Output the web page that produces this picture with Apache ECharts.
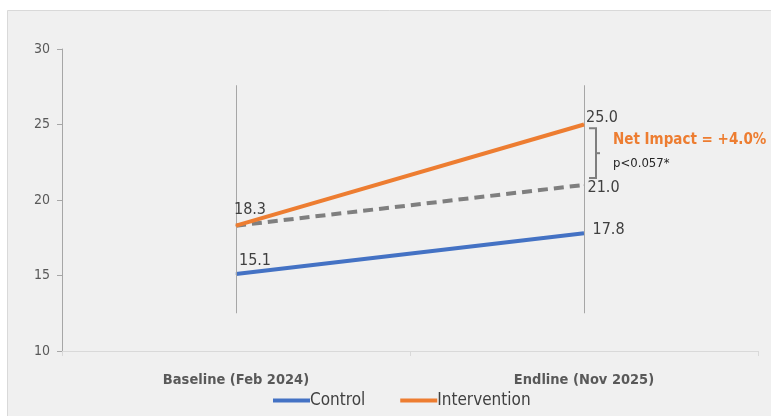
<!DOCTYPE html>
<html>
<head>
<meta charset="utf-8">
<script src="https://cdn.jsdelivr.net/npm/echarts@6/dist/echarts.min.js"></script>
<style>
  html, body { margin: 0; padding: 0; background: #ffffff; }
  #chart { width: 771px; height: 416px; }
</style>
</head>
<body>
<div id="chart"></div>
<script>
// Survey rounds
const categories = ['Baseline (Feb 2024)', 'Endline (Nov 2025)'];
// Outcome values per round
const controlValues = [15.1, 17.8];
const interventionValues = [18.3, 25.0];
// Expected intervention trend without the programme (parallel to control)
const counterfactualValues = [18.3, 21.0];
// Span of the vertical guide lines drawn at each round
const guideSpan = [12.5, 27.6];
// Extent of the bracket between endline intervention and counterfactual
const bracketSpan = [24.75, 21.45];
const yTicks = { min: 10, max: 30, interval: 5 };
const impactText = 'Net Impact = +4.0%';
const pText = 'p<0.057*';

const FONT = '"DejaVu Sans Condensed", "Liberation Sans Narrow", "Liberation Sans", sans-serif';

const chart = echarts.init(document.getElementById('chart'), null, { renderer: 'canvas' });

const guideLines = categories.map((c, i) => [
  { coord: [i, guideSpan[0]] },
  { coord: [i, guideSpan[1]] }
]);

const valueLabel = {
  show: true,
  fontFamily: FONT, fontSize: 16, color: '#404040',
  formatter: p => Number(p.value).toFixed(1)
};

const option = {
  animation: false,
  backgroundColor: '#ffffff',
  textStyle: { fontFamily: FONT },
  grid: { left: 62, right: 13, top: 49, bottom: 65, containLabel: false },
  legend: {
    bottom: 2,
    left: 268,
    data: [
      { name: 'Control', icon: 'rect' },
      { name: 'Intervention', icon: 'rect' }
    ],
    itemWidth: 37,
    itemHeight: 4,
    itemGap: 35,
    textStyle: { fontFamily: FONT, fontSize: 17, color: '#404040', padding: [0, 0, 0, -5] }
  },
  xAxis: {
    type: 'category',
    data: categories,
    boundaryGap: true,
    axisLine: { show: true, lineStyle: { color: '#d9d9d9', width: 1 } },
    axisTick: { show: true, length: 5, lineStyle: { color: '#d9d9d9' } },
    axisLabel: { fontFamily: FONT, fontSize: 14.5, fontWeight: 'bold', color: '#595959', margin: 22 },
    splitLine: { show: false }
  },
  yAxis: {
    type: 'value',
    min: yTicks.min,
    max: yTicks.max,
    interval: yTicks.interval,
    axisLine: { show: true, lineStyle: { color: '#a6a6a6', width: 1 } },
    axisTick: { show: true, length: 5, lineStyle: { color: '#a6a6a6' } },
    axisLabel: { fontFamily: FONT, fontSize: 14, color: '#595959', margin: 12 },
    splitLine: { show: false }
  },
  series: [
    {
      name: 'Guides',
      type: 'line',
      data: [],
      silent: true,
      markLine: {
        symbol: 'none',
        silent: true,
        label: { show: false },
        lineStyle: { color: '#a6a6a6', width: 1, type: 'solid' },
        data: guideLines
      }
    },
    {
      name: 'Counterfactual',
      type: 'line',
      symbol: 'circle',
      symbolSize: 1,
      showSymbol: true,
      color: '#7f7f7f',
      lineStyle: { color: '#7f7f7f', width: 4, type: [10, 6] },
      data: counterfactualValues.map((v, i) => ({
        value: v,
        label: i === 1
          ? Object.assign({}, valueLabel, { position: 'right', offset: [-2, 3] })
          : { show: false }
      })),
      z: 3
    },
    {
      name: 'Control',
      type: 'line',
      symbol: 'circle',
      symbolSize: 1,
      showSymbol: true,
      color: '#4472c4',
      lineStyle: { color: '#4472c4', width: 4 },
      label: valueLabel,
      data: controlValues.map((v, i) => ({
        value: v,
        label: i === 0 ? { position: 'top', offset: [19, 0] } : { position: 'right', offset: [3, -3] }
      })),
      z: 4
    },
    {
      name: 'Intervention',
      type: 'line',
      symbol: 'circle',
      symbolSize: 1,
      showSymbol: true,
      color: '#ed7d31',
      lineStyle: { color: '#ed7d31', width: 4 },
      label: valueLabel,
      data: interventionValues.map((v, i) => ({
        value: v,
        label: i === 0 ? { position: 'top', offset: [14, -2] } : { position: 'top', offset: [18, 7] }
      })),
      z: 5
    }
  ]
};

chart.setOption(option);

// Bracket and annotation placed in data space at the endline round
const bTop = chart.convertToPixel({ gridIndex: 0 }, [1, bracketSpan[0]]);
const bBot = chart.convertToPixel({ gridIndex: 0 }, [1, bracketSpan[1]]);
const bx = bTop[0] + 12;
const midY = (bTop[1] + bBot[1]) / 2;
chart.setOption({
  graphic: [
    {
      type: 'rect', z: -10, silent: true,
      shape: { x: 7.5, y: 10.5, width: 800, height: 420 },
      style: { fill: '#f0f0f0', stroke: '#d9d9d9', lineWidth: 1 }
    },
    {
      type: 'polyline', z: 10, silent: true,
      shape: { points: [[bx - 7, bTop[1]], [bx, bTop[1]], [bx, bBot[1]], [bx - 7, bBot[1]]] },
      style: { stroke: '#7f7f7f', lineWidth: 2, fill: null }
    },
    {
      type: 'line', z: 10, silent: true,
      shape: { x1: bx, y1: midY, x2: bx + 4, y2: midY },
      style: { stroke: '#7f7f7f', lineWidth: 2 }
    },
    {
      type: 'text', z: 10, silent: true,
      x: bx + 17, y: bTop[1] + 12,
      style: { text: impactText, fill: '#ed7d31', font: 'bold 15px ' + FONT, textVerticalAlign: 'middle' }
    },
    {
      type: 'text', z: 10, silent: true,
      x: bx + 17, y: bTop[1] + 35,
      style: { text: pText, fill: '#262626', font: '13px ' + FONT, textVerticalAlign: 'middle' }
    }
  ]
});
</script>
</body>
</html>
